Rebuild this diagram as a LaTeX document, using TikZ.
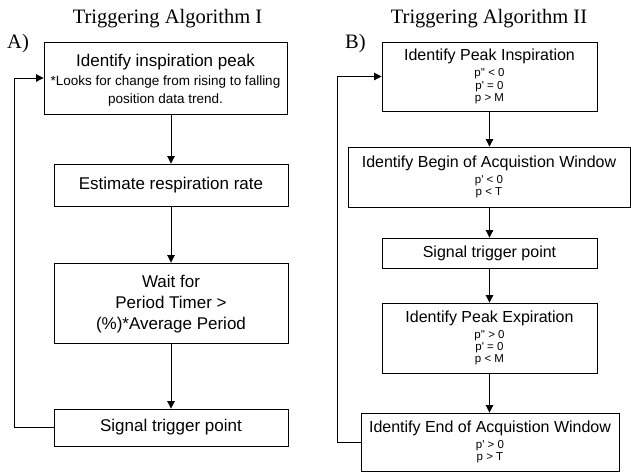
\documentclass[tikz,border=0pt]{standalone}
\usepackage{fontspec}
\setmainfont{Liberation Serif}
\newfontfamily\arial{Liberation Sans}[Ligatures=TeXOff]
\usetikzlibrary{arrows.meta}
\begin{document}
\begin{tikzpicture}[x=1pt,y=-1pt,
  box/.style={draw=black, line width=0.9pt, inner sep=0pt, align=center},
  lbox/.style={box, font=\arial\fontsize{13.5}{18.7}\selectfont},
  rbox/.style={box, font=\arial\fontsize{11.5}{12.3}\selectfont},
  big/.style={font=\arial\fontsize{17}{21}\selectfont},
  conn/.style={line width=0.9pt, -{Triangle[length=7.5pt,width=7.5pt]}},
  ttl/.style={font=\fontsize{20.5}{24}\selectfont, inner sep=0pt, anchor=base},
]
\useasboundingbox (0,0) rectangle (631,472);

% titles
\node[ttl] (t1) at (167.5,23) {Triggering Algorithm I};
\node[ttl, anchor=base west] (la) at (7,48) {A)};
\node[ttl] (t2) at (489,23) {Triggering Algorithm II};
\node[ttl, anchor=base west] (lb) at (345,48) {B)};

% left flow
\node[lbox, minimum width=243pt, minimum height=72pt] (a1) at (165.5,78)
  {\rule{0pt}{17pt}{\fontsize{17}{18.7}\selectfont Identify inspiration peak}\\
   *Looks for change from rising to falling\\
   position data trend.};
\node[box, big, minimum width=234pt, minimum height=42pt] (a2) at (171,185)
  {Estimate respiration rate};
\node[box, big, minimum width=234pt, minimum height=80pt] (a3) at (171,303)
  {\rule{0pt}{15pt}Wait for\\ Period Timer >\\ (\%)*Average Period};
\node[box, big, minimum width=234pt, minimum height=37pt] (a4) at (171,427.5)
  {Signal trigger point};

\draw[conn] (a1.south -| a2.north) -- (a2.north);
\draw[conn] (a2.south) -- (a3.north);
\draw[conn] (a3.south) -- (a4.north);
\draw[conn] (a4.west) -- ++(-39,0) |- (a1.west);

% right flow
\node[rbox, minimum width=215pt, minimum height=69pt] (b1) at (489.5,76.5)
  {{\fontsize{16}{12.3}\selectfont Identify Peak Inspiration}\\[3.5pt]
   p'' < 0\\ p' = 0\\ p > M};
\node[rbox, minimum width=282pt, minimum height=60pt] (b2) at (489,177)
  {{\fontsize{16}{12.3}\selectfont Identify Begin of Acquistion Window}\\[3.5pt]
   p' < 0\\ p < T};
\node[box, font=\arial\fontsize{16}{19}\selectfont, minimum width=215pt, minimum height=30pt] (b3) at (489.5,253)
  {Signal trigger point};
\node[rbox, minimum width=215pt, minimum height=70pt] (b4) at (489.5,338)
  {{\fontsize{16}{12.3}\selectfont Identify Peak Expiration}\\[3.5pt]
   p'' > 0\\ p' = 0\\ p < M};
\node[rbox, minimum width=258pt, minimum height=58pt] (b5) at (490,442)
  {{\fontsize{16}{12.3}\selectfont Identify End of Acquistion Window}\\[3.5pt]
   p' > 0\\ p > T};

\draw[conn] (b1.south) -- (b1.south |- b2.north);
\draw[conn] (b1.south |- b2.south) -- (b1.south |- b3.north);
\draw[conn] (b3.south) -- (b4.north);
\draw[conn] (b4.south) -- (b4.south |- b5.north);
\draw[conn] (b5.west) -- ++(-23,0) |- (b1.west);
\end{tikzpicture}
\end{document}
